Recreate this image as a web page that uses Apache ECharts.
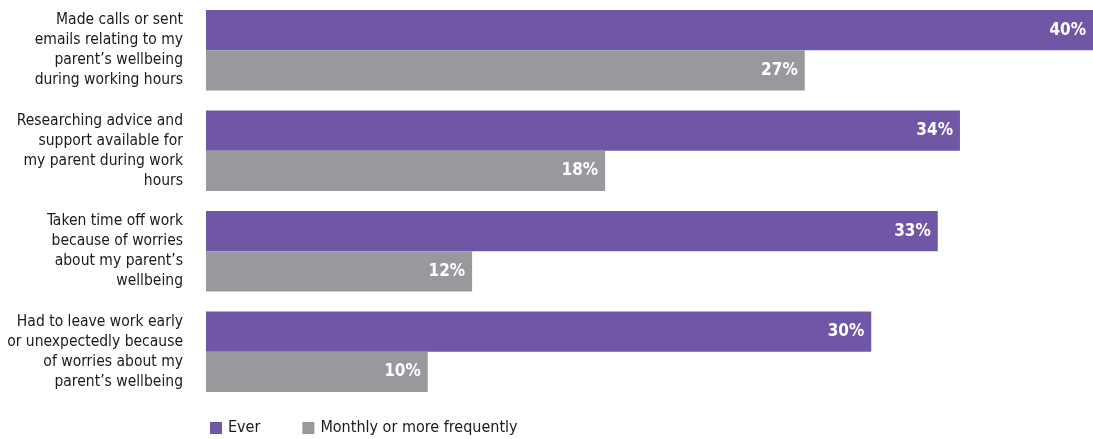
<!DOCTYPE html>
<html>
<head>
<meta charset="utf-8">
<script src="https://cdn.jsdelivr.net/npm/echarts@6/dist/echarts.min.js"></script>
<style>
html,body{margin:0;padding:0;background:#fff;}
#chart{width:1093px;height:439px;}
</style>
</head>
<body>
<div id="chart"></div>
<script>
const categories = [
  "Made calls or sent\nemails relating to my\nparent\u2019s wellbeing\nduring working hours",
  "Researching advice and\nsupport available for\nmy parent during work\nhours",
  "Taken time off work\nbecause of worries\nabout my parent\u2019s\nwellbeing",
  "Had to leave work early\nor unexpectedly because\nof worries about my\nparent\u2019s wellbeing"
];
const seriesNames = ["Ever", "Monthly or more frequently"];
const everValues = [40, 34, 33, 30];
const monthlyValues = [27, 18, 12, 10];

const FONT = '"Liberation Sans Narrow", "DejaVu Sans Condensed", "Liberation Sans", sans-serif';
const chart = echarts.init(document.getElementById('chart'), null, {renderer: 'canvas'});
const labelCfg = {
  show: true,
  position: 'insideRight',
  distance: 7,
  color: '#ffffff',
  fontWeight: 'bold',
  fontSize: 17,
  fontFamily: FONT,
  formatter: p => p.value + '%'
};
chart.setOption({
  animation: false,
  textStyle: {fontFamily: FONT},
  grid: {left: 206, right: 0, top: 0, bottom: 37, containLabel: false},
  xAxis: {
    type: 'value', min: 0, max: 40,
    show: false
  },
  yAxis: {
    type: 'category',
    data: categories,
    inverse: true,
    axisLine: {show: false},
    axisTick: {show: false},
    axisLabel: {
      margin: 23,
      fontSize: 15.5,
      lineHeight: 20,
      color: '#1a1a1a',
      align: 'right',
      fontFamily: FONT
    }
  },
  legend: {
    left: 210,
    top: 420,
    padding: 0,
    itemWidth: 12,
    itemHeight: 12,
    itemGap: 42,
    icon: 'rect',
    textStyle: {fontSize: 16, color: '#1a1a1a', fontFamily: FONT, padding: [0, 0, 0, 1]},
    data: seriesNames
  },
  series: [
    {
      name: seriesNames[0], type: 'bar', data: everValues,
      barGap: 0, barCategoryGap: '20%',
      itemStyle: {color: '#6F57A5'},
      label: labelCfg
    },
    {
      name: seriesNames[1], type: 'bar', data: monthlyValues,
      barGap: 0, barCategoryGap: '20%',
      itemStyle: {color: '#99989D'},
      label: labelCfg
    }
  ]
});
</script>
</body>
</html>
